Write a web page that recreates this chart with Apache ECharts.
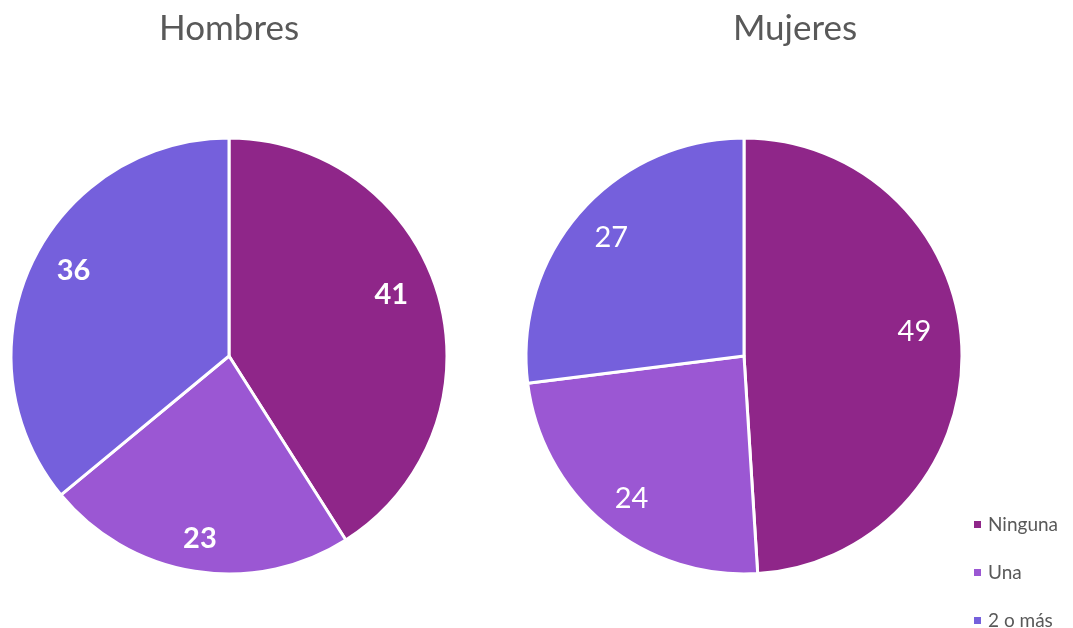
<!DOCTYPE html>
<html>
<head>
<meta charset="utf-8">
<script src="https://cdn.jsdelivr.net/npm/echarts@6/dist/echarts.min.js"></script>
<style>
  html, body { margin: 0; padding: 0; background: #ffffff; }
  #chart { width: 1073px; height: 628px; }
</style>
</head>
<body>
<div id="chart"></div>
<script>
// Número de hijos por sexo (porcentaje)
const categories = ['Ninguna', 'Una', '2 o más'];
const groups = ['Hombres', 'Mujeres'];
const hombres = [41, 23, 36];
const mujeres = [49, 24, 27];

const colors = ['#8F2689', '#9B57D3', '#7560DC'];
const FONT = 'Lato, "Open Sans", sans-serif';

const centers = [[229, 356], [744, 356]];
const R = 218;

// small nudges for the value labels, per pie and per slice
const labelNudge = [
  [[-10, -11], [-1, 5], [7, -9]],
  [[-9, -19], [2, 4], [2, 0]]
];

function toData(values) {
  return categories.map((name, i) => ({ name, value: values[i] }));
}

const seriesValues = [hombres, mujeres];
const series = [];
seriesValues.forEach((vals, k) => {
  // visible slices
  series.push({
    type: 'pie',
    name: groups[k],
    center: centers[k],
    radius: [0, R],
    startAngle: 90,
    clockwise: true,
    data: toData(vals),
    label: { show: false },
    labelLine: { show: false },
    itemStyle: { borderColor: '#ffffff', borderWidth: 3 },
    emphasis: { disabled: true },
    silent: true
  });
  // transparent ring that carries the value labels further out than mid-radius
  series.push({
    type: 'pie',
    name: groups[k] + '-labels',
    center: centers[k],
    radius: [135, R],
    startAngle: 90,
    clockwise: true,
    data: toData(vals),
    itemStyle: { color: 'rgba(0,0,0,0)', borderWidth: 0 },
    label: {
      show: true,
      position: 'inside',
      formatter: '{c}',
      color: '#ffffff',
      fontFamily: FONT,
      fontSize: 29,
      fontWeight: k === 0 ? 'bold' : 'normal'
    },
    labelLine: { show: false },
    labelLayout: function (p) {
      const n = labelNudge[k][p.dataIndex];
      return { dx: n[0], dy: n[1] };
    },
    emphasis: { disabled: true },
    silent: true,
    z: 3
  });
});

const chart = echarts.init(document.getElementById('chart'), null, { renderer: 'canvas' });
chart.setOption({
  animation: false,
  color: colors,
  title: [
    { text: 'Hombres', left: 224, top: 6, textAlign: 'center',
      textStyle: { fontFamily: FONT, fontSize: 35, fontWeight: 'normal', color: '#595959' } },
    { text: 'Mujeres', left: 790, top: 6, textAlign: 'center',
      textStyle: { fontFamily: FONT, fontSize: 35, fontWeight: 'normal', color: '#595959' } }
  ],
  legend: {
    orient: 'vertical',
    left: 972,
    top: 515,
    height: 160,
    padding: 0,
    itemWidth: 9,
    itemHeight: 9,
    itemGap: 29,
    icon: 'rect',
    data: categories,
    textStyle: { fontFamily: FONT, fontSize: 19, lineHeight: 18, color: '#595959', padding: [0, 0, 0, 1] },
    selectedMode: false
  },
  series
});
</script>
</body>
</html>
